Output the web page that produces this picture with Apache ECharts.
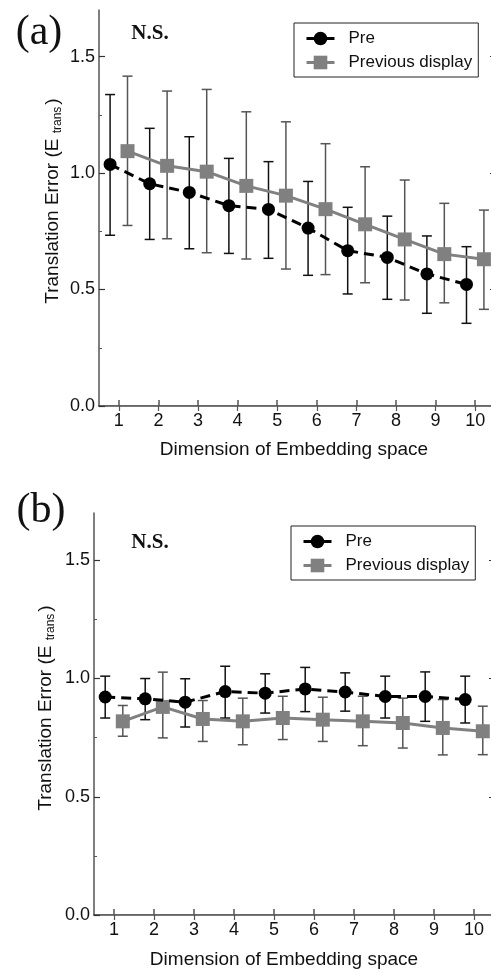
<!DOCTYPE html>
<html>
<head>
<meta charset="utf-8">
<script src="https://cdn.jsdelivr.net/npm/echarts@6/dist/echarts.min.js"></script>
<style>
  html, body { margin: 0; padding: 0; background: #fff; }
  #chart { width: 491px; height: 971px; }
</style>
</head>
<body>
<div id="chart"></div>
<script>
// Dimension of embedding space (x categories)
const dims = [1, 2, 3, 4, 5, 6, 7, 8, 9, 10];
const yLabels = [0, 0.5, 1.0, 1.5];
const yMinor = [0.25, 0.75, 1.25];

// Panel (a)
const preA = [1.037, 0.954, 0.917, 0.860, 0.844, 0.764, 0.667, 0.638, 0.567, 0.522];
const preALo = [0.733, 0.715, 0.675, 0.655, 0.634, 0.561, 0.481, 0.458, 0.398, 0.355];
const preAHi = [1.337, 1.192, 1.156, 1.063, 1.049, 0.964, 0.853, 0.815, 0.730, 0.684];
const prevA = [1.094, 1.031, 1.006, 0.945, 0.903, 0.845, 0.780, 0.715, 0.652, 0.630];
const prevALo = [0.775, 0.718, 0.658, 0.631, 0.588, 0.564, 0.529, 0.455, 0.443, 0.415];
const prevAHi = [1.416, 1.352, 1.359, 1.263, 1.220, 1.126, 1.027, 0.970, 0.870, 0.841];

// Panel (b)
const preB = [0.922, 0.914, 0.900, 0.945, 0.938, 0.956, 0.943, 0.924, 0.924, 0.911];
const preBLo = [0.833, 0.826, 0.795, 0.833, 0.854, 0.860, 0.862, 0.833, 0.819, 0.812];
const preBHi = [1.010, 1.000, 0.999, 1.052, 1.020, 1.047, 1.024, 1.010, 1.028, 1.010];
const prevB = [0.819, 0.880, 0.829, 0.819, 0.833, 0.826, 0.819, 0.812, 0.791, 0.777];
const prevBLo = [0.756, 0.749, 0.734, 0.720, 0.742, 0.734, 0.716, 0.706, 0.677, 0.678];
const prevBHi = [0.886, 1.027, 0.907, 0.917, 0.925, 0.921, 0.925, 0.917, 0.911, 0.883];

const PRE_SHIFT = -0.22;   // points are dodged left/right of each tick
const PREV_SHIFT = 0.22;
const GREY = '#808080';
const FONT = 'Liberation Sans, Arial, sans-serif';
const SERIF = 'Liberation Serif, Times New Roman, serif';

let chart = echarts.init(document.getElementById('chart'), null, { renderer: 'canvas' });

let errorBars = (axisIdx, lo, hi, shift, color) => ({
  type: 'custom',
  xAxisIndex: axisIdx * 2,
  yAxisIndex: axisIdx * 3,
  z: 1,
  silent: true,
  data: dims.map((d, i) => [d + shift, lo[i], hi[i]]),
  renderItem: (params, api) => {
    let x = api.value(0);
    let a = api.coord([x, api.value(1)]);
    let b = api.coord([x, api.value(2)]);
    let hw = 5;
    let st = { stroke: color, lineWidth: 1.5 };
    return {
      type: 'group',
      children: [
        { type: 'line', shape: { x1: a[0], y1: a[1], x2: b[0], y2: b[1] }, style: st },
        { type: 'line', shape: { x1: a[0] - hw, y1: a[1], x2: a[0] + hw, y2: a[1] }, style: st },
        { type: 'line', shape: { x1: b[0] - hw, y1: b[1], x2: b[0] + hw, y2: b[1] }, style: st }
      ]
    };
  }
});

let preLine = (axisIdx, vals) => ({
  name: 'Pre',
  type: 'line',
  xAxisIndex: axisIdx * 2,
  yAxisIndex: axisIdx * 3,
  z: 3,
  data: dims.map((d, i) => [d + PRE_SHIFT, vals[i]]),
  symbol: 'circle',
  symbolSize: 13,
  itemStyle: { color: '#000' },
  lineStyle: { color: '#000', width: 3, type: [10, 6] },
  animation: false
});

let prevLine = (axisIdx, vals) => ({
  name: 'Previous display',
  type: 'line',
  xAxisIndex: axisIdx * 2,
  yAxisIndex: axisIdx * 3,
  z: 2,
  data: dims.map((d, i) => [d + PREV_SHIFT, vals[i]]),
  symbol: 'rect',
  symbolSize: 14,
  itemStyle: { color: GREY },
  lineStyle: { color: GREY, width: 3 },
  animation: false
});

let xAxes = (gridIdx) => [
  {
    type: 'value', gridIndex: gridIdx, position: 'bottom', min: 0.5, max: 10.5,
    splitLine: { show: false },
    axisLine: { lineStyle: { color: '#333', width: 1.5 } },
    axisTick: { inside: true, length: 6, customValues: dims, lineStyle: { color: '#555', width: 1.5 } },
    axisLabel: { customValues: dims, fontSize: 18, color: '#111', fontFamily: FONT, margin: 6 }
  },
  {
    type: 'value', gridIndex: gridIdx, position: 'top', min: 0.5, max: 10.5,
    splitLine: { show: false },
    axisLine: { lineStyle: { color: '#777', width: 1 } },
    axisTick: { inside: true, length: 5, customValues: dims, lineStyle: { color: '#555', width: 1.2 } },
    axisLabel: { show: false }
  }
];

let yAxes = (gridIdx) => [
  {
    type: 'value', gridIndex: gridIdx, position: 'left', min: 0, max: 1.7,
    splitLine: { show: false },
    axisLine: { show: true, lineStyle: { color: '#555', width: 1.5 } },
    axisTick: { inside: true, length: 6, customValues: yLabels, lineStyle: { color: '#333', width: 1.2 } },
    axisLabel: {
      customValues: yLabels, fontSize: 18, color: '#111', fontFamily: FONT, margin: 4,
      formatter: (v) => v.toFixed(1)
    }
  },
  {
    type: 'value', gridIndex: gridIdx, position: 'left', min: 0, max: 1.7,
    splitLine: { show: false },
    axisLine: { show: false },
    axisTick: { inside: true, length: 3, customValues: yMinor, lineStyle: { color: '#555', width: 1 } },
    axisLabel: { show: false }
  },
  {
    type: 'value', gridIndex: gridIdx, position: 'right', min: 0, max: 1.7,
    splitLine: { show: false },
    axisLine: { show: true, lineStyle: { color: '#555', width: 1.5 } },
    axisTick: { inside: true, length: 5, customValues: yLabels.slice(1), lineStyle: { color: '#333', width: 1.2 } },
    axisLabel: { show: false }
  }
];

let legendFor = (left, top) => ({
  show: true,
  orient: 'vertical',
  left: left,
  top: top,
  padding: [7, 6, 6, 11],
  itemGap: 7,
  itemWidth: 28,
  itemHeight: 17,
  borderColor: '#222',
  borderWidth: 1,
  backgroundColor: '#fff',
  data: ['Pre', 'Previous display'],
  textStyle: { fontSize: 17, color: '#111', fontFamily: FONT, padding: [0, 0, 0, 9] },
  lineStyle: { type: 'solid', width: 3 },
  selectedMode: false
});

let yTitle = (x, y) => ({
  type: 'text',
  x: x, y: y,
  rotation: Math.PI / 2,
  style: {
    text: '{a|Translation Error (E }{b|trans}{a|)}',
    align: 'center',
    verticalAlign: 'middle',
    rich: {
      a: { fontSize: 19, fontFamily: FONT, fill: '#111', lineHeight: 22 },
      b: { fontSize: 12, fontFamily: FONT, fill: '#111', padding: [9, 2, 0, 0], lineHeight: 22 }
    }
  }
});

let plainText = (x, y, text, size, family, weight) => ({
  type: 'text',
  x: x, y: y,
  style: {
    text: text, fontSize: size, fontFamily: family, fontWeight: weight || 'normal',
    fill: '#111', align: 'center', verticalAlign: 'middle'
  }
});

let option = {
  animation: false,
  backgroundColor: '#fff',
  grid: [
    { left: 99, top: 10, width: 396, height: 396, outerBoundsMode: 'none', containLabel: false },
    { left: 94, top: 513, width: 400, height: 402, outerBoundsMode: 'none', containLabel: false }
  ],
  xAxis: xAxes(0).concat(xAxes(1)),
  yAxis: yAxes(0).concat(yAxes(1)),
  legend: [legendFor(294, 23), legendFor(291, 526)],
  series: [
    errorBars(0, preALo, preAHi, PRE_SHIFT, '#111'),
    errorBars(0, prevALo, prevAHi, PREV_SHIFT, '#555'),
    preLine(0, preA),
    prevLine(0, prevA),
    errorBars(1, preBLo, preBHi, PRE_SHIFT, '#111'),
    errorBars(1, prevBLo, prevBHi, PREV_SHIFT, '#555'),
    preLine(1, preB),
    prevLine(1, prevB)
  ],
  graphic: [
    plainText(39, 33, '(a)', 42, SERIF),
    plainText(41, 511, '(b)', 42, SERIF),
    plainText(150, 34, 'N.S.', 21, SERIF, 'bold'),
    plainText(150, 543, 'N.S.', 21, SERIF, 'bold'),
    plainText(294, 450, 'Dimension of Embedding space', 19, FONT),
    plainText(284, 960, 'Dimension of Embedding space', 19, FONT),
    yTitle(53, 201),
    yTitle(46, 708)
  ]
};

chart.setOption(option);
</script>
</body>
</html>
